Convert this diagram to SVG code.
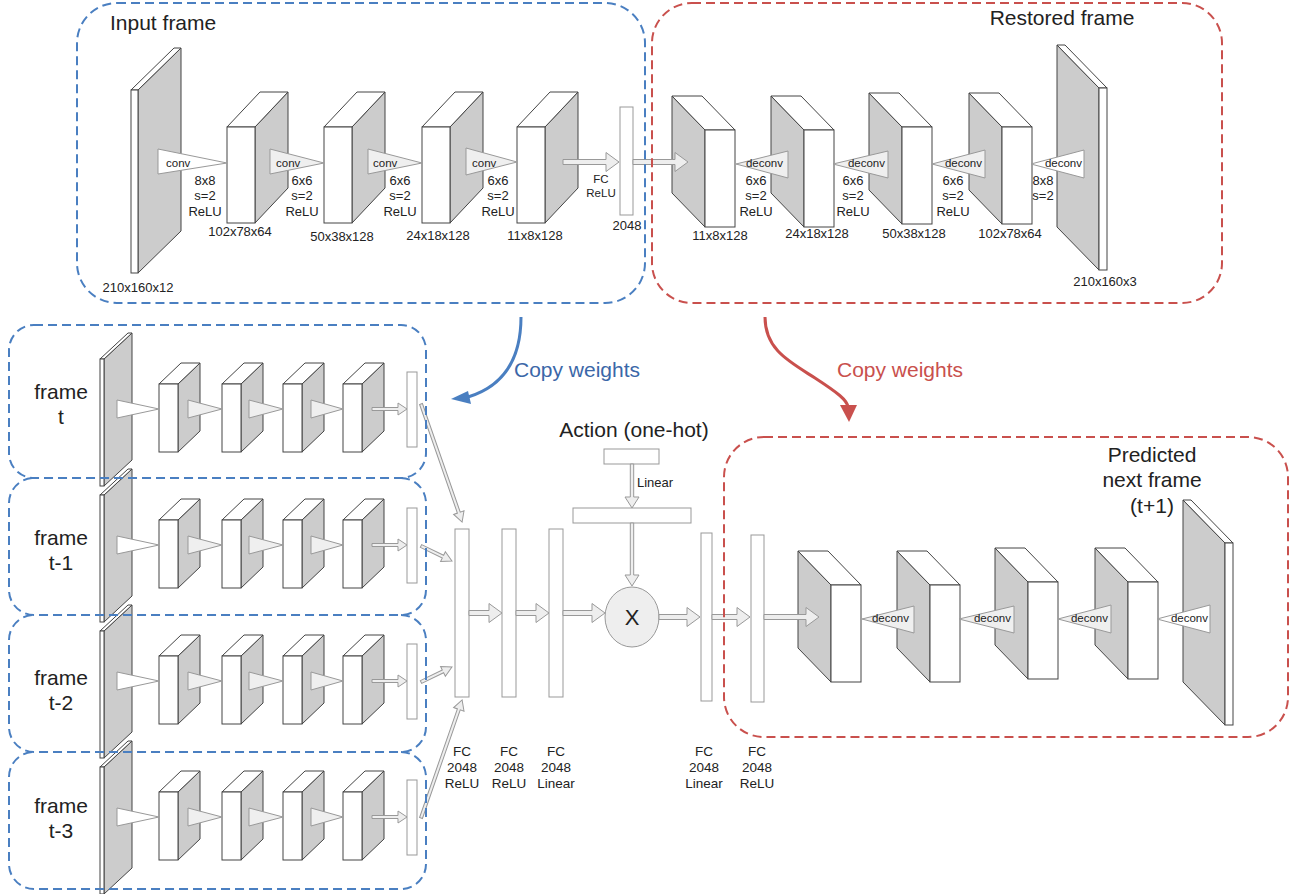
<svg xmlns="http://www.w3.org/2000/svg" width="1303" height="894" viewBox="0 0 1303 894">
<style>
text{font-family:"Liberation Sans",Arial,sans-serif;fill:#222}
.big{font-size:21px}
.dim{font-size:13px}
.lab{font-size:13.5px}
.op{font-size:11.5px}
.m{text-anchor:middle}
.e{text-anchor:end}
.face{fill:#fff;stroke:#444;stroke-width:1}
.side{fill:#ccc;stroke:#444;stroke-width:1}
.tri{fill:#efefef;stroke:#999;stroke-width:1}
.triw{fill:#fff;stroke:#999;stroke-width:1}
.bar{fill:#fff;stroke:#999;stroke-width:1}
.harr{fill:#eee;stroke:#999;stroke-width:1}
.bdash{fill:none;stroke:#4a7fc1;stroke-width:2;stroke-dasharray:9 5}
.rdash{fill:none;stroke:#c9504d;stroke-width:2;stroke-dasharray:9 5}
</style>
<defs>
  <g id="encBox"><polygon class="side" points="28,0 61,-35 61,61 28,96"/><polygon class="face" points="0,0 33,-35 61,-35 28,0"/><rect class="face" x="0" y="0" width="28" height="96"/></g>
  <g id="decBox"><polygon class="side" points="-33,-34 0,0 0,97 -33,63"/><polygon class="face" points="-33,-34 -3,-34 30,0 0,0"/><rect class="face" x="0" y="0" width="30" height="97"/></g>
  <g id="smBox"><polygon class="side" points="19,0 41,-21 41,47 19,68"/><polygon class="face" points="0,0 22,-21 41,-21 19,0"/><rect class="face" x="0" y="0" width="19" height="68"/></g>
  <g id="smSlab"><polygon class="side" points="4,0 32,-26 32,101 4,127"/><polygon class="face" points="0,0 28,-26 32,-26 4,0"/><rect class="face" x="0" y="0" width="4" height="127"/></g>
  <g id="rowShapes">
    <use href="#smSlab" x="100" y="359"/>
    <use href="#smBox" x="159" y="384"/>
    <use href="#smBox" x="222" y="384"/>
    <use href="#smBox" x="283" y="384"/>
    <use href="#smBox" x="343" y="384"/>
    <polygon class="triw" points="117,400 117,418 159,409"/>
    <polygon class="tri" points="188,400 188,418 222,409"/>
    <polygon class="tri" points="249,400 249,418 283,409"/>
    <polygon class="tri" points="311,400 311,418 343,409"/>
    <path class="harr" d="M372,407.5 L398,407.5 L398,403 L407,409 L398,415 L398,410.5 L372,410.5 Z"/>
    <rect class="bar" x="407" y="372" width="10" height="75"/>
  </g>
</defs>

<!-- Top encoder -->
<g id="encoder">
  <g id="inputSlab">
    <polygon class="side" points="138,90 181,48 181,231 138,273"/>
    <polygon class="face" points="131,90 174,48 181,48 138,90"/>
    <rect class="face" x="131" y="90" width="7" height="183"/>
  </g>
  <g id="enc1"><use href="#encBox" x="227" y="127"/></g>
  <g id="enc2"><use href="#encBox" x="324" y="127"/></g>
  <g id="enc3"><use href="#encBox" x="422" y="127"/></g>
  <g id="enc4"><use href="#encBox" x="517" y="127"/></g>
  <g id="conv1"><polygon class="triw" points="158,149 158,174 227,163"/><text class="op" x="166" y="167">conv</text></g>
  <g id="conv2"><polygon class="tri" points="270,149 270,174 324,163"/><text class="op" x="276" y="167">conv</text></g>
  <g id="conv3"><polygon class="tri" points="368,149 368,174 422,163"/><text class="op" x="373" y="167">conv</text></g>
  <g id="conv4"><polygon class="tri" points="466,148 466,175 517,162"/><text class="op" x="472" y="167">conv</text></g>
  <g id="fcTop"><rect class="bar" x="620" y="107" width="13" height="108"/></g>
</g>

<!-- Top decoder -->
<g id="decoderTop">
  <use href="#decBox" x="705" y="130"/>
  <use href="#decBox" x="804" y="130"/>
  <use href="#decBox" x="902" y="127"/>
  <use href="#decBox" x="1002" y="127"/>
  <polygon class="side" points="1057,45 1099,88 1099,270 1057,227"/>
  <polygon class="face" points="1057,45 1065,45 1107,88 1099,88"/>
  <rect class="face" x="1099" y="88" width="8" height="182"/>
  <polygon class="tri" points="736,164 788,151 788,178"/>
  <polygon class="tri" points="833,164 888,151 888,178"/>
  <polygon class="tri" points="932,164 985,150 985,178"/>
  <polygon class="triw" points="1031,164 1084,150 1084,178"/>
</g>
<g id="decoderBottom"><use href="#decoderTop" transform="translate(126,455)"/></g>

<!-- Rows -->
<g id="rowT"><use href="#rowShapes"/></g>
<g id="rowT1"><use href="#rowShapes" y="136"/></g>
<g id="rowT2"><use href="#rowShapes" y="272"/></g>
<g id="rowT3"><use href="#rowShapes" y="408"/></g>

<!-- Middle FC -->
<g id="fc1"><rect class="bar" x="455" y="529" width="14" height="168"/></g>
<g id="fc2"><rect class="bar" x="502" y="529" width="14" height="168"/></g>
<g id="fc3"><rect class="bar" x="549" y="529" width="14" height="168"/></g>
<g id="fc4"><rect class="bar" x="701" y="533" width="11" height="168"/></g>
<g id="fc5"><rect class="bar" x="751" y="535" width="13" height="167"/></g>
<g id="actionBox"><rect class="bar" x="604" y="449" width="55" height="15"/></g>
<g id="actionLinear"><rect class="bar" x="573" y="508" width="118" height="15"/></g>
<g id="mult"><ellipse cx="632" cy="617" rx="27" ry="30" fill="#eee" stroke="#999" stroke-width="1"/><text x="632" y="625" class="m" style="font-size:22px">X</text></g>

<!-- Connectors -->
<g id="connectors">
  <path class="harr" d="M563,159.5 L606,159.5 L606,152.5 L619,162 L606,171.5 L606,164.5 L563,164.5 Z"/>
  <path class="harr" d="M633,159.5 L675,159.5 L675,152.5 L688,162 L675,171.5 L675,164.5 L633,164.5 Z"/>
  <path class="harr" d="M469,610.5 L489,610.5 L489,603.5 L502,613 L489,622.5 L489,615.5 L469,615.5 Z"/>
  <path class="harr" d="M516,610.5 L536,610.5 L536,603.5 L549,613 L536,622.5 L536,615.5 L516,615.5 Z"/>
  <path class="harr" d="M563,610.5 L592,610.5 L592,603.5 L605,613 L592,622.5 L592,615.5 L563,615.5 Z"/>
  <path class="harr" d="M659,614.5 L687,614.5 L687,607.5 L700,617 L687,626.5 L687,619.5 L659,619.5 Z"/>
  <path class="harr" d="M712,614.5 L737,614.5 L737,607.5 L750,617 L737,626.5 L737,619.5 L712,619.5 Z"/>
  <path class="harr" d="M764,614.5 L806,614.5 L806,607.5 L819,617 L806,626.5 L806,619.5 L764,619.5 Z"/>
  <path class="harr" d="M630.3,464 L630.3,497 L625,497 L632,508 L639,497 L633.7,497 L633.7,464 Z"/>
  <path class="harr" d="M630.3,523 L630.3,575 L625,575 L632,586 L639,575 L633.7,575 L633.7,523 Z"/>
  <path class="harr" transform="translate(421,404) rotate(70.8)" d="M0,-1.5 L115,-1.5 L115,-5.5 L125,0 L115,5.5 L115,1.5 L0,1.5 Z"/>
  <path class="harr" transform="translate(421,546) rotate(25.8)" d="M0,-1.5 L24.4,-1.5 L24.4,-5.5 L34.4,0 L24.4,5.5 L24.4,1.5 L0,1.5 Z"/>
  <path class="harr" transform="translate(421,682) rotate(-25.8)" d="M0,-1.5 L24.4,-1.5 L24.4,-5.5 L34.4,0 L24.4,5.5 L24.4,1.5 L0,1.5 Z"/>
  <path class="harr" transform="translate(421,818) rotate(-70.8)" d="M0,-1.5 L115,-1.5 L115,-5.5 L125,0 L115,5.5 L115,1.5 L0,1.5 Z"/>
  <path d="M521,317 C521,355 507,385 468,397" fill="none" stroke="#4a7fc1" stroke-width="3"/>
  <polygon points="451,399 468,391 471,404" fill="#4a7fc1"/>
  <path d="M765,317 C765,350 790,362 815,378 C838,393 847,400 848,407" fill="none" stroke="#c9504d" stroke-width="3"/>
  <polygon points="840,405 857,405 849,422" fill="#c9504d"/>
</g>

<!-- Dashed groups -->
<g id="groups">
  <rect class="bdash" x="77" y="3" width="568" height="300" rx="40"/>
  <rect class="rdash" x="652" y="3" width="570" height="300" rx="40"/>
  <rect class="bdash" x="9" y="325" width="417" height="153" rx="25"/>
  <path class="bdash" d="M401,478 A25,25 0 0 1 426,503 L426,590 A25,25 0 0 1 401,615 L34,615 A25,25 0 0 1 9,590 L9,503 A25,25 0 0 1 34,478"/>
  <path class="bdash" d="M401,615 A25,25 0 0 1 426,640 L426,727 A25,25 0 0 1 401,752 L34,752 A25,25 0 0 1 9,727 L9,640 A25,25 0 0 1 34,615"/>
  <path class="bdash" d="M401,752 A25,25 0 0 1 426,777 L426,864 A25,25 0 0 1 401,889 L34,889 A25,25 0 0 1 9,864 L9,777 A25,25 0 0 1 34,752"/>
  <rect class="rdash" x="724" y="437" width="564" height="300" rx="40"/>
</g>

<!-- Texts -->
<g id="labels">
  <text class="big" x="110" y="30">Input frame</text>
  <text class="big m" x="1062" y="25">Restored frame</text>
  <text class="dim m" x="138" y="292">210x160x12</text>
  <text class="dim m" x="240" y="236">102x78x64</text>
  <text class="dim m" x="342" y="241">50x38x128</text>
  <text class="dim m" x="438" y="240">24x18x128</text>
  <text class="dim m" x="535" y="240">11x8x128</text>
  <text class="dim m" x="627" y="230">2048</text>
  <text class="op m" x="601" y="183">FC</text>
  <text class="op m" x="601" y="197">ReLU</text>
  <text class="dim m" x="205" y="185">8x8</text><text class="dim m" x="205" y="200">s=2</text><text class="dim m" x="205" y="216">ReLU</text>
  <text class="dim m" x="302" y="185">6x6</text><text class="dim m" x="302" y="200">s=2</text><text class="dim m" x="302" y="216">ReLU</text>
  <text class="dim m" x="400" y="185">6x6</text><text class="dim m" x="400" y="200">s=2</text><text class="dim m" x="400" y="216">ReLU</text>
  <text class="dim m" x="498" y="185">6x6</text><text class="dim m" x="498" y="200">s=2</text><text class="dim m" x="498" y="216">ReLU</text>
  <text class="op e" x="783" y="167">deconv</text>
  <text class="op e" x="885" y="167">deconv</text>
  <text class="op e" x="982" y="167">deconv</text>
  <text class="op e" x="1082" y="167">deconv</text>
  <text class="dim m" x="756" y="185">6x6</text><text class="dim m" x="756" y="200">s=2</text><text class="dim m" x="756" y="216">ReLU</text>
  <text class="dim m" x="853" y="185">6x6</text><text class="dim m" x="853" y="200">s=2</text><text class="dim m" x="853" y="216">ReLU</text>
  <text class="dim m" x="953" y="185">6x6</text><text class="dim m" x="953" y="200">s=2</text><text class="dim m" x="953" y="216">ReLU</text>
  <text class="dim m" x="1043" y="185">8x8</text><text class="dim m" x="1043" y="200">s=2</text>
  <text class="dim m" x="720" y="240">11x8x128</text>
  <text class="dim m" x="817" y="238">24x18x128</text>
  <text class="dim m" x="914" y="238">50x38x128</text>
  <text class="dim m" x="1010" y="238">102x78x64</text>
  <text class="dim m" x="1105" y="286">210x160x3</text>
  <text class="big" x="514" y="377" style="fill:#3b67a8">Copy weights</text>
  <text class="big" x="837" y="377" style="fill:#c9504d">Copy weights</text>
  <text class="big m" x="61" y="399">frame</text><text class="big m" x="61" y="424">t</text>
  <text class="big m" x="61" y="545">frame</text><text class="big m" x="61" y="570">t-1</text>
  <text class="big m" x="61" y="685">frame</text><text class="big m" x="61" y="710">t-2</text>
  <text class="big m" x="61" y="813">frame</text><text class="big m" x="61" y="838">t-3</text>
  <text class="big m" x="634" y="437">Action (one-hot)</text>
  <text class="dim" x="637" y="487">Linear</text>
  <text class="lab m" x="462" y="756">FC</text><text class="lab m" x="462" y="772">2048</text><text class="lab m" x="462" y="788">ReLU</text>
  <text class="lab m" x="509" y="756">FC</text><text class="lab m" x="509" y="772">2048</text><text class="lab m" x="509" y="788">ReLU</text>
  <text class="lab m" x="556" y="756">FC</text><text class="lab m" x="556" y="772">2048</text><text class="lab m" x="556" y="788">Linear</text>
  <text class="lab m" x="704" y="756">FC</text><text class="lab m" x="704" y="772">2048</text><text class="lab m" x="704" y="788">Linear</text>
  <text class="lab m" x="757" y="756">FC</text><text class="lab m" x="757" y="772">2048</text><text class="lab m" x="757" y="788">ReLU</text>
  <text class="op e" x="909" y="622">deconv</text>
  <text class="op e" x="1011" y="622">deconv</text>
  <text class="op e" x="1108" y="622">deconv</text>
  <text class="op e" x="1208" y="622">deconv</text>
  <text class="big m" x="1152" y="462">Predicted</text>
  <text class="big m" x="1152" y="487">next frame</text>
  <text class="big m" x="1152" y="513">(t+1)</text>
</g>
</svg>
